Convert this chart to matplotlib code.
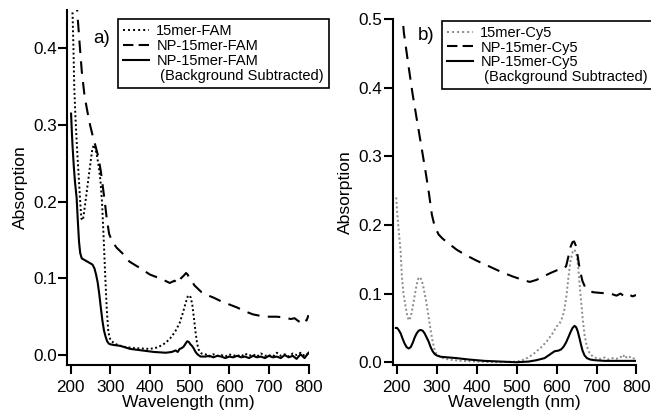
import matplotlib
matplotlib.use('Agg')
import matplotlib.pyplot as plt
from matplotlib.lines import Line2D
from matplotlib.ticker import FormatStrFormatter

plt.rcParams['font.family'] = ['Liberation Sans', 'DejaVu Sans']

# ---- panel a) : FAM ----
fam_wl = [203, 205, 207, 209, 212, 216, 220, 224, 227, 231, 236, 241, 246, 251, 255, 259, 263, 267,
          271, 275, 279, 283, 287, 291, 295, 300, 310, 330, 360, 400, 420, 440, 455, 465, 475, 483,
          490, 495, 499, 503, 507, 511, 515, 519, 523, 530, 540, 550, 560, 570, 580, 590, 600, 610,
          620, 630, 640, 650, 660, 670, 680, 690, 700, 710, 720, 730, 740, 750, 760, 770, 780, 790, 800]
fam_abs = [0.47, 0.44, 0.40, 0.35, 0.31, 0.27, 0.235, 0.20, 0.178, 0.176, 0.195, 0.215, 0.235, 0.255,
           0.27, 0.274, 0.268, 0.258, 0.245, 0.228, 0.20, 0.155, 0.105, 0.06, 0.03, 0.02, 0.015, 0.011,
           0.009, 0.008, 0.010, 0.016, 0.024, 0.032, 0.042, 0.055, 0.068, 0.076, 0.078, 0.075, 0.065,
           0.048, 0.030, 0.015, 0.007, 0.002, 0.001, -0.002, 0.001, -0.001, 0.0, -0.002, 0.001, -0.001,
           0.0, -0.002, 0.002, -0.001, 0.001, -0.002, 0.002, -0.001, 0.0, -0.002, 0.003, -0.001, 0.001,
           -0.002, 0.002, 0.0, 0.003, -0.001, 0.002]

np_fam_wl = [212, 217, 222, 228, 235, 242, 249, 256, 263, 270, 276, 281, 286, 291, 297, 305, 316, 330,
             348, 370, 400, 430, 450, 462, 470, 478, 486, 491, 495, 500, 505, 512, 520, 530, 545, 560,
             580, 600, 620, 640, 660, 680, 700, 720, 740, 755, 765, 775, 783, 790, 795, 800]
np_fam_abs = [0.48, 0.445, 0.41, 0.37, 0.338, 0.318, 0.30, 0.285, 0.272, 0.258, 0.24, 0.22, 0.20,
              0.178, 0.158, 0.148, 0.14, 0.133, 0.122, 0.115, 0.105, 0.099, 0.094, 0.097, 0.093, 0.10,
              0.104, 0.107, 0.105, 0.10, 0.097, 0.091, 0.087, 0.082, 0.078, 0.075, 0.070, 0.066, 0.062,
              0.057, 0.053, 0.051, 0.050, 0.050, 0.049, 0.047, 0.048, 0.044, 0.042, 0.047, 0.045, 0.052]

bg_fam_wl = [201, 203, 205, 208, 211, 215, 218, 221, 224, 228, 235, 245, 255, 260, 264, 268, 272, 276,
             280, 284, 288, 292, 296, 300, 310, 325, 350, 380, 410, 440, 455, 465, 470, 475, 480, 485,
             490, 494, 498, 502, 506, 510, 514, 518, 522, 528, 540, 550, 560, 570, 580, 590, 600, 610,
             620, 630, 640, 650, 660, 670, 680, 690, 700, 710, 720, 730, 740, 750, 760, 770, 780, 790, 800]
bg_fam_abs = [0.315, 0.29, 0.27, 0.245, 0.225, 0.205, 0.175, 0.148, 0.133, 0.126, 0.124, 0.121, 0.118,
              0.113, 0.105, 0.095, 0.08, 0.062, 0.045, 0.032, 0.024, 0.018, 0.015, 0.014, 0.013, 0.012,
              0.008, 0.006, 0.004, 0.003, 0.004, 0.006, 0.004, 0.008, 0.009, 0.011, 0.015, 0.018, 0.017,
              0.014, 0.012, 0.009, 0.005, 0.002, 0.0, -0.002, -0.002, -0.001, -0.003, -0.001, -0.002,
              -0.004, -0.002, -0.003, -0.001, -0.003, -0.002, -0.004, -0.001, -0.003, -0.002, -0.004,
              -0.001, -0.003, -0.002, -0.004, 0.0, -0.003, -0.001, -0.005, 0.001, -0.004, 0.003]

# ---- panel b) : Cy5 ----
cy5_wl = [199, 201, 204, 207, 210, 213, 217, 222, 227, 231, 235, 240, 245, 250, 254, 258, 262, 266,
          270, 274, 278, 282, 286, 290, 295, 300, 310, 330, 360, 400, 450, 500, 520, 540, 560, 575,
          590, 600, 608, 615, 620, 625, 630, 635, 640, 645, 650, 654, 658, 662, 666, 670, 675, 680,
          686, 692, 700, 710, 720, 730, 740, 750, 760, 765, 770, 775, 780, 790, 800]
cy5_abs = [0.24, 0.22, 0.20, 0.18, 0.16, 0.125, 0.10, 0.082, 0.066, 0.061, 0.066, 0.08, 0.097, 0.113,
           0.122, 0.124, 0.12, 0.112, 0.10, 0.088, 0.073, 0.058, 0.043, 0.03, 0.018, 0.011, 0.007,
           0.004, 0.002, 0.001, 0.0, 0.001, 0.004, 0.011, 0.021, 0.03, 0.042, 0.052, 0.057, 0.066,
           0.078, 0.098, 0.125, 0.148, 0.16, 0.164, 0.157, 0.14, 0.112, 0.085, 0.06, 0.04, 0.025,
           0.016, 0.011, 0.008, 0.006, 0.005, 0.007, 0.004, 0.006, 0.005, 0.008, 0.006, 0.011, 0.007,
           0.009, 0.005, 0.007]

np_cy5_wl = [212, 218, 224, 230, 240, 250, 263, 273, 281, 288, 295, 305, 315, 330, 350, 370, 400, 430,
             460, 490, 515, 533, 550, 567, 585, 605, 618, 624, 630, 635, 640, 644, 648, 652, 656, 660,
             665, 671, 680, 691, 710, 735, 750, 760, 770, 780, 790, 800]
np_cy5_abs = [0.52, 0.48, 0.455, 0.43, 0.39, 0.355, 0.31, 0.275, 0.245, 0.215, 0.198, 0.186, 0.18,
              0.173, 0.164, 0.157, 0.148, 0.14, 0.132, 0.125, 0.12, 0.117, 0.12, 0.125, 0.13, 0.135,
              0.136, 0.14, 0.155, 0.168, 0.175, 0.176, 0.17, 0.158, 0.143, 0.13, 0.118, 0.11, 0.105,
              0.102, 0.101, 0.10, 0.097, 0.10, 0.096, 0.099, 0.096, 0.098]

bg_cy5_wl = [198, 201, 205, 210, 215, 220, 225, 230, 235, 240, 245, 250, 255, 260, 265, 270, 275, 280,
             285, 290, 295, 300, 310, 330, 350, 380, 420, 460, 500, 530, 550, 570, 585, 595, 605, 612,
             618, 624, 630, 635, 640, 645, 649, 653, 657, 661, 665, 670, 676, 684, 695, 720, 760, 800]
bg_cy5_abs = [0.05, 0.05, 0.047, 0.042, 0.034, 0.027, 0.022, 0.02, 0.022, 0.028, 0.036, 0.042, 0.046,
              0.047, 0.046, 0.042, 0.036, 0.03, 0.022, 0.016, 0.012, 0.01, 0.008, 0.007, 0.006, 0.004,
              0.002, 0.001, 0.0, 0.001, 0.003, 0.006, 0.012, 0.016, 0.017, 0.019, 0.023, 0.029, 0.037,
              0.044, 0.05, 0.053, 0.051, 0.045, 0.036, 0.026, 0.017, 0.01, 0.006, 0.004, 0.003, 0.002,
              0.002, 0.002]

fig = plt.figure(figsize=(6.51, 4.18), dpi=100)
ax1 = fig.add_axes([0.1034, 0.1268, 0.3705, 0.8490])
ax2 = fig.add_axes([0.6032, 0.1268, 0.3745, 0.8278])

dot = (0, (1, 1.3))
dash = (0, (6, 4))

ax1.plot(fam_wl, fam_abs, color='black', linestyle=dot, linewidth=1.4)
ax1.plot(np_fam_wl, np_fam_abs, color='black', linestyle=dash, linewidth=1.5)
ax1.plot(bg_fam_wl, bg_fam_abs, color='black', linestyle='-', linewidth=1.5)

ax2.plot(cy5_wl, cy5_abs, color='#8a8a8a', linestyle=dot, linewidth=1.4)
ax2.plot(np_cy5_wl, np_cy5_abs, color='black', linestyle=dash, linewidth=1.5)
ax2.plot(bg_cy5_wl, bg_cy5_abs, color='black', linestyle='-', linewidth=1.5)

ax1.set_xlim(191.5, 800)
ax1.set_ylim(-0.013, 0.45)
ax1.set_yticks([0.0, 0.1, 0.2, 0.3, 0.4])
ax2.set_xlim(190, 800)
ax2.set_ylim(-0.004, 0.5)
ax2.set_yticks([0.0, 0.1, 0.2, 0.3, 0.4, 0.5])

for ax in (ax1, ax2):
    ax.set_xticks([200, 300, 400, 500, 600, 700, 800])
    ax.yaxis.set_major_formatter(FormatStrFormatter('%.1f'))
    for s in ('top', 'right'):
        ax.spines[s].set_visible(False)
    for s in ('left', 'bottom'):
        ax.spines[s].set_linewidth(1.5)
    ax.tick_params(axis='both', direction='out', length=6.3, width=1.5, labelsize=12.3)
    ax.tick_params(axis='y', pad=1.2)
    ax.tick_params(axis='x', pad=4.6)
    ax.set_xlabel('Wavelength (nm)', fontsize=12.6, labelpad=0)
    ax.set_ylabel('Absorption', fontsize=12.6, labelpad=4)

ax1.text(0.107, 0.907, 'a)', transform=ax1.transAxes, fontsize=13.5, va='baseline')
ax2.text(0.104, 0.940, 'b)', transform=ax2.transAxes, fontsize=13.5, va='baseline')

# legends (4th row is the wrapped part of the 3rd label)
def make_legend(ax, names, dotcol, anchor):
    handles = [Line2D([], [], color=dotcol, linestyle=(0, (1, 1.6)), linewidth=1.4),
               Line2D([], [], color='black', linestyle=(0, (5, 2.5)), linewidth=1.5),
               Line2D([], [], color='black', linestyle='-', linewidth=1.5),
               Line2D([], [], linestyle='none')]
    leg = ax.legend(handles, names, loc='upper left', bbox_to_anchor=anchor,
                    bbox_transform=fig.transFigure, fontsize=10.5, frameon=True,
                    fancybox=False, edgecolor='black', framealpha=1, borderaxespad=0,
                    handlelength=1.8, handletextpad=0.5, labelspacing=0.05, borderpad=0.35)
    leg.get_frame().set_linewidth(1.2)
    return leg

make_legend(ax1, ['15mer-FAM', 'NP-15mer-FAM', 'NP-15mer-FAM', ' (Background Subtracted)'],
            'black', (0.1808, 0.9538))
make_legend(ax2, ['15mer-Cy5', 'NP-15mer-Cy5', 'NP-15mer-Cy5', ' (Background Subtracted)'],
            '#8a8a8a', (0.6785, 0.9505))

fig.savefig('out.png', dpi=100)
